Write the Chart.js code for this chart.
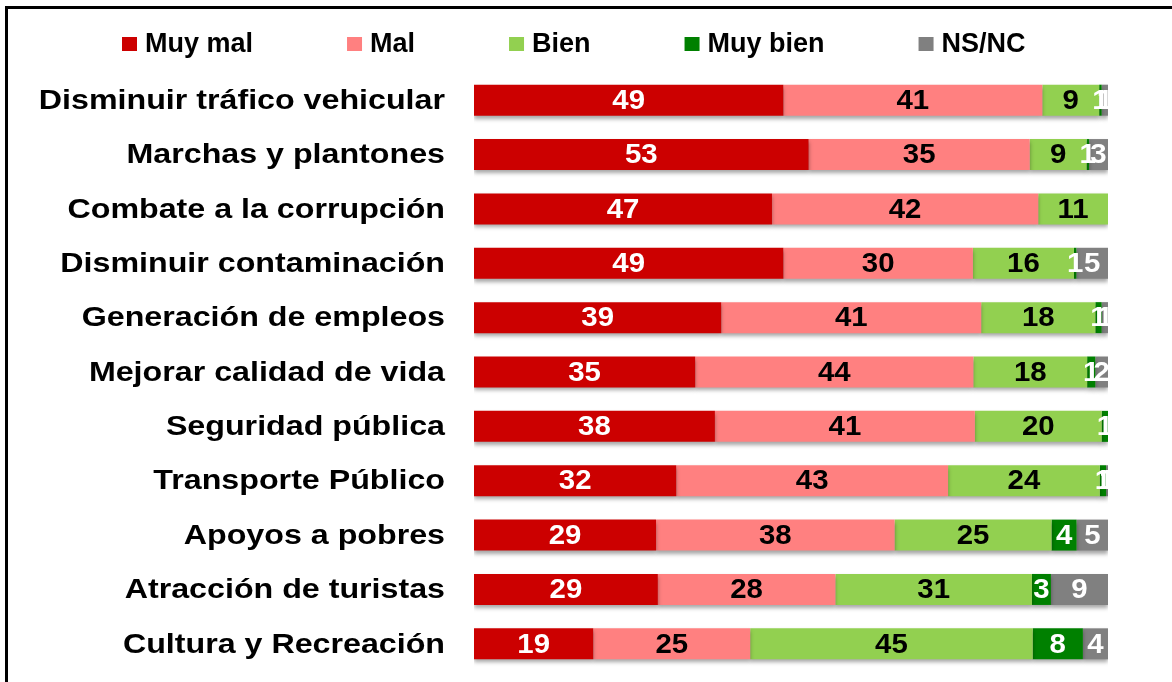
<!DOCTYPE html>
<html lang="es">
<head>
<meta charset="utf-8">
<title>Evaluación por tema</title>
<script src="https://cdn.jsdelivr.net/npm/chart.js@4.4.1/dist/chart.umd.min.js"></script>
<style>
    html, body { margin: 0; padding: 0; background: #ffffff; }
    #chartWrap { position: relative; width: 1172px; height: 682px; }
</style>
</head>
<body>
<div id="chartWrap">
    <canvas id="evalChart" width="1172" height="682"></canvas>
</div>
<script>
const categories = [
    "Disminuir tráfico vehicular",
    "Marchas y plantones",
    "Combate a la corrupción",
    "Disminuir contaminación",
    "Generación de empleos",
    "Mejorar calidad de vida",
    "Seguridad pública",
    "Transporte Público",
    "Apoyos a pobres",
    "Atracción de turistas",
    "Cultura y Recreación",
];

const muyMal   = [49, 53, 47, 49, 39, 35, 38, 32, 29, 29, 19];
const mal      = [41, 35, 42, 30, 41, 44, 41, 43, 38, 28, 25];
const bien     = [9, 9, 11, 16, 18, 18, 20, 24, 25, 31, 45];
const muyBien  = [0.4, 0.4, 0, 0.4, 1, 1.3, 1, 1, 4, 3, 8];
const nsnc     = [1, 3, 0, 5, 1, 2, 0, 0.3, 5, 9, 4];

const seriesNames  = ["Muy mal", "Mal", "Bien", "Muy bien", "NS/NC"];
const seriesColors = ["#cc0000", "#ff8080", "#92d050", "#008000", "#808080"];
const labelColors  = ["#ffffff", "#000000", "#000000", "#ffffff", "#ffffff"];
const seriesValues = [muyMal, mal, bien, muyBien, nsnc];

const FONT = '"Liberation Sans", Arial, sans-serif';

// each row is drawn as 100 % (the source is a 100 % stacked bar)
const rowTotals = categories.map(function (_, i) {
    return seriesValues.reduce(function (sum, s) { return sum + s[i]; }, 0);
});

function toPercent(values) {
    return values.map(function (v, i) { return (v / rowTotals[i]) * 100; });
}

function labelText(v) {
    return String(v < 1 ? 1 : Math.round(v));
}

const framePlugin = {
    id: "frame",
    beforeDraw(chart) {
        const ctx = chart.ctx;
        ctx.save();
        ctx.fillStyle = "#ffffff";
        ctx.fillRect(0, 0, chart.width, chart.height);
        ctx.strokeStyle = "#000000";
        ctx.lineWidth = 3;
        ctx.strokeRect(6.5, 7.5, chart.width + 20, chart.height + 20);
        ctx.restore();
    },
};

const legendPlugin = {
    id: "topLegend",
    afterDraw(chart) {
        const ctx = chart.ctx;
        ctx.save();
        ctx.font = "bold 27px " + FONT;
        ctx.textBaseline = "alphabetic";
        ctx.textAlign = "left";
        let x = 122;
        seriesNames.forEach(function (name, i) {
            ctx.fillStyle = seriesColors[i];
            ctx.fillRect(x, 37, 15, 14);
            ctx.fillStyle = "#000000";
            ctx.fillText(name, x + 23, 52);
            x += 23 + ctx.measureText(name).width + 94;
        });
        ctx.restore();
    },
};

const shadowPlugin = {
    id: "barShadow",
    beforeDatasetsDraw(chart) {
        const ctx = chart.ctx;
        ctx.save();
        ctx.shadowColor = "rgba(0, 0, 0, 0.35)";
        ctx.shadowBlur = 4;
        ctx.shadowOffsetX = 0;
        ctx.shadowOffsetY = 3;
    },
    afterDatasetsDraw(chart) {
        chart.ctx.restore();
    },
};

const valueLabelPlugin = {
    id: "valueLabels",
    afterDraw(chart) {
        const ctx = chart.ctx;
        const yScale = chart.scales.y;

        ctx.save();
        // category names, slightly widened like the original
        ctx.font = "bold 28px " + FONT;
        ctx.fillStyle = "#000000";
        ctx.textAlign = "right";
        ctx.textBaseline = "middle";
        categories.forEach(function (name, i) {
            const y = yScale.getPixelForValue(i);
            ctx.save();
            ctx.scale(1.15, 1);
            ctx.fillText(name, 445 / 1.15, y + 1);
            ctx.restore();
        });

        ctx.font = "bold 28px " + FONT;
        ctx.textAlign = "center";
        chart.data.datasets.forEach(function (ds, di) {
            const meta = chart.getDatasetMeta(di);
            meta.data.forEach(function (bar, i) {
                const raw = seriesValues[di][i];
                if (!raw) return;
                const cx = (bar.x + bar.base) / 2;
                ctx.fillStyle = labelColors[di];
                ctx.save();
                ctx.scale(1.05, 1);
                ctx.fillText(labelText(raw), cx / 1.05, bar.y + 1);
                ctx.restore();
            });
        });
        ctx.restore();
    },
};

function buildDatasets() {
    return seriesNames.map(function (name, i) {
        return {
            label: name,
            data: toPercent(seriesValues[i]),
            backgroundColor: seriesColors[i],
            borderWidth: 0,
            categoryPercentage: 1,
            barPercentage: 0.57,
        };
    });
}

const ctx = document.getElementById("evalChart").getContext("2d");
new Chart(ctx, {
    type: "bar",
    data: {
        labels: categories,
        datasets: buildDatasets(),
    },
    options: {
        indexAxis: "y",
        responsive: false,
        animation: false,
        layout: {
            padding: { top: 73, right: 64, bottom: 11, left: 474 },
        },
        plugins: {
            legend: { display: false },
            tooltip: { enabled: false },
        },
        scales: {
            x: {
                stacked: true,
                min: 0,
                max: 100,
                display: false,
                grid: { display: false },
            },
            y: {
                stacked: true,
                display: false,
                grid: { display: false },
            },
        },
    },
    plugins: [framePlugin, shadowPlugin, valueLabelPlugin, legendPlugin],
});
</script>
</body>
</html>
